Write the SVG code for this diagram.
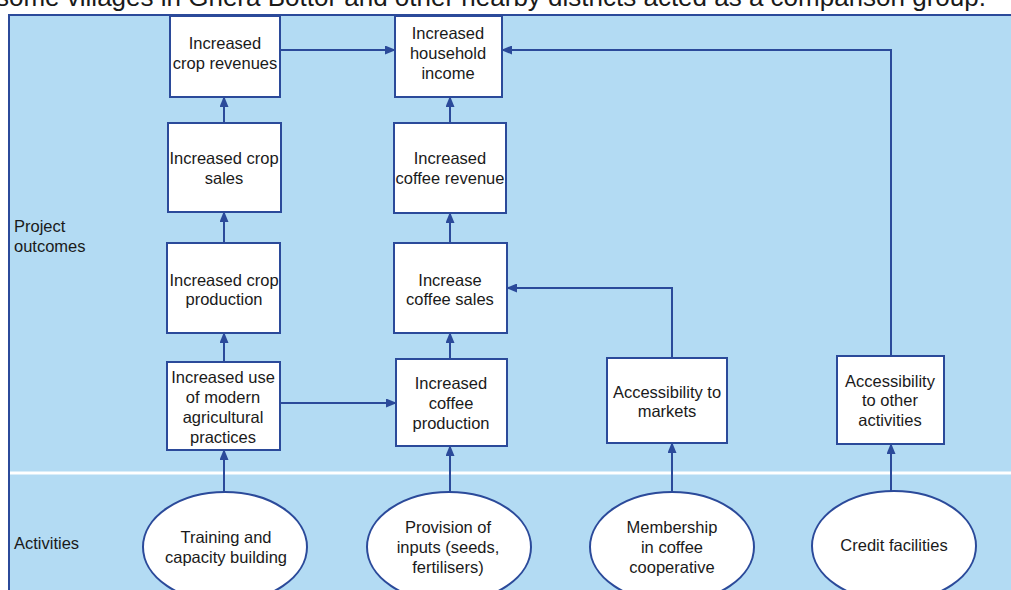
<svg xmlns="http://www.w3.org/2000/svg" width="1011" height="590" viewBox="0 0 1011 590">
<style>
  .t{font-family:"Liberation Sans",Arial,sans-serif;font-size:16.5px;fill:#1a1a1a;text-anchor:middle}
  .lbl{font-family:"Liberation Sans",Arial,sans-serif;font-size:16.5px;fill:#1a1a1a}
  .box{fill:#ffffff;stroke:#2b4a9a;stroke-width:2}
  .con{fill:none;stroke:#2b4a9a;stroke-width:2;marker-end:url(#ah)}
</style>
<defs>
  <marker id="ah" markerUnits="userSpaceOnUse" markerWidth="11" markerHeight="9" refX="10" refY="4.5" orient="auto">
    <path d="M0,0 L11,4.5 L0,9 z" fill="#2b4a9a"/>
  </marker>
</defs>
<rect width="1011" height="590" fill="#ffffff"/>
<text x="-4" y="6" style="font-family:'Liberation Sans',Arial,sans-serif;font-size:26px;fill:#1a1a1a">some villages in Ghera Bottor and other nearby districts acted as a comparison group.</text>
<rect id="frame" x="9" y="15" width="1020" height="600" fill="#b3dbf3" stroke="#2b4a9a" stroke-width="2"/>
<line x1="10" y1="473" x2="1011" y2="473" stroke="#ffffff" stroke-width="3"/>
<text class="lbl" x="14" y="232">Project</text>
<text class="lbl" x="14" y="252">outcomes</text>
<text class="lbl" x="14" y="549">Activities</text>

<g id="connectors">
  <path class="con" d="M280,50 H395"/>
  <path class="con" d="M891,356 V50 H502"/>
  <path class="con" d="M672,358 V288 H507"/>
  <path class="con" d="M280,403 H396"/>
  <path class="con" d="M224,123 V97"/>
  <path class="con" d="M224,243 V212"/>
  <path class="con" d="M224,362 V333"/>
  <path class="con" d="M224,492 V450"/>
  <path class="con" d="M450,123 V97"/>
  <path class="con" d="M450,243 V213"/>
  <path class="con" d="M450,359 V333"/>
  <path class="con" d="M450,492 V446"/>
  <path class="con" d="M672,492 V443"/>
  <path class="con" d="M891,491 V444"/>
</g>

<g id="crop-revenues">
  <rect class="box" x="170" y="16" width="110" height="81"/>
  <text class="t" x="225" y="49">Increased</text>
  <text class="t" x="225" y="69">crop revenues</text>
</g>
<g id="household-income">
  <rect class="box" x="395" y="16" width="107" height="81"/>
  <text class="t" x="448" y="39">Increased</text>
  <text class="t" x="448" y="59">household</text>
  <text class="t" x="448" y="79">income</text>
</g>
<g id="crop-sales">
  <rect class="box" x="168" y="123" width="113" height="89"/>
  <text class="t" x="224" y="164">Increased crop</text>
  <text class="t" x="224" y="184">sales</text>
</g>
<g id="coffee-revenue">
  <rect class="box" x="394" y="123" width="112" height="90"/>
  <text class="t" x="450" y="164">Increased</text>
  <text class="t" x="450" y="184">coffee revenue</text>
</g>
<g id="crop-production">
  <rect class="box" x="167" y="243" width="113" height="90"/>
  <text class="t" x="224" y="286">Increased crop</text>
  <text class="t" x="224" y="305">production</text>
</g>
<g id="coffee-sales">
  <rect class="box" x="394" y="243" width="113" height="90"/>
  <text class="t" x="450" y="286">Increase</text>
  <text class="t" x="450" y="305">coffee sales</text>
</g>
<g id="modern-practices">
  <rect class="box" x="167" y="362" width="113" height="88"/>
  <text class="t" x="223" y="383">Increased use</text>
  <text class="t" x="223" y="403">of modern</text>
  <text class="t" x="223" y="423">agricultural</text>
  <text class="t" x="223" y="443">practices</text>
</g>
<g id="coffee-production">
  <rect class="box" x="396" y="359" width="111" height="87"/>
  <text class="t" x="451" y="389">Increased</text>
  <text class="t" x="451" y="409">coffee</text>
  <text class="t" x="451" y="429">production</text>
</g>
<g id="markets">
  <rect class="box" x="607" y="358" width="120" height="85"/>
  <text class="t" x="667" y="398">Accessibility to</text>
  <text class="t" x="667" y="417">markets</text>
</g>
<g id="other-activities">
  <rect class="box" x="837" y="356" width="107" height="88"/>
  <text class="t" x="890" y="387">Accessibility</text>
  <text class="t" x="890" y="406">to other</text>
  <text class="t" x="890" y="426">activities</text>
</g>

<g id="training">
  <ellipse class="box" cx="225" cy="547" rx="82" ry="55"/>
  <text class="t" x="226" y="543">Training and</text>
  <text class="t" x="226" y="563">capacity building</text>
</g>
<g id="inputs">
  <ellipse class="box" cx="449" cy="547" rx="82" ry="55"/>
  <text class="t" x="448" y="533">Provision of</text>
  <text class="t" x="448" y="553">inputs (seeds,</text>
  <text class="t" x="448" y="573">fertilisers)</text>
</g>
<g id="membership">
  <ellipse class="box" cx="672" cy="547" rx="82" ry="55"/>
  <text class="t" x="672" y="533">Membership</text>
  <text class="t" x="672" y="553">in coffee</text>
  <text class="t" x="672" y="573">cooperative</text>
</g>
<g id="credit">
  <ellipse class="box" cx="894" cy="546" rx="82" ry="55"/>
  <text class="t" x="894" y="551">Credit facilities</text>
</g>
</svg>
